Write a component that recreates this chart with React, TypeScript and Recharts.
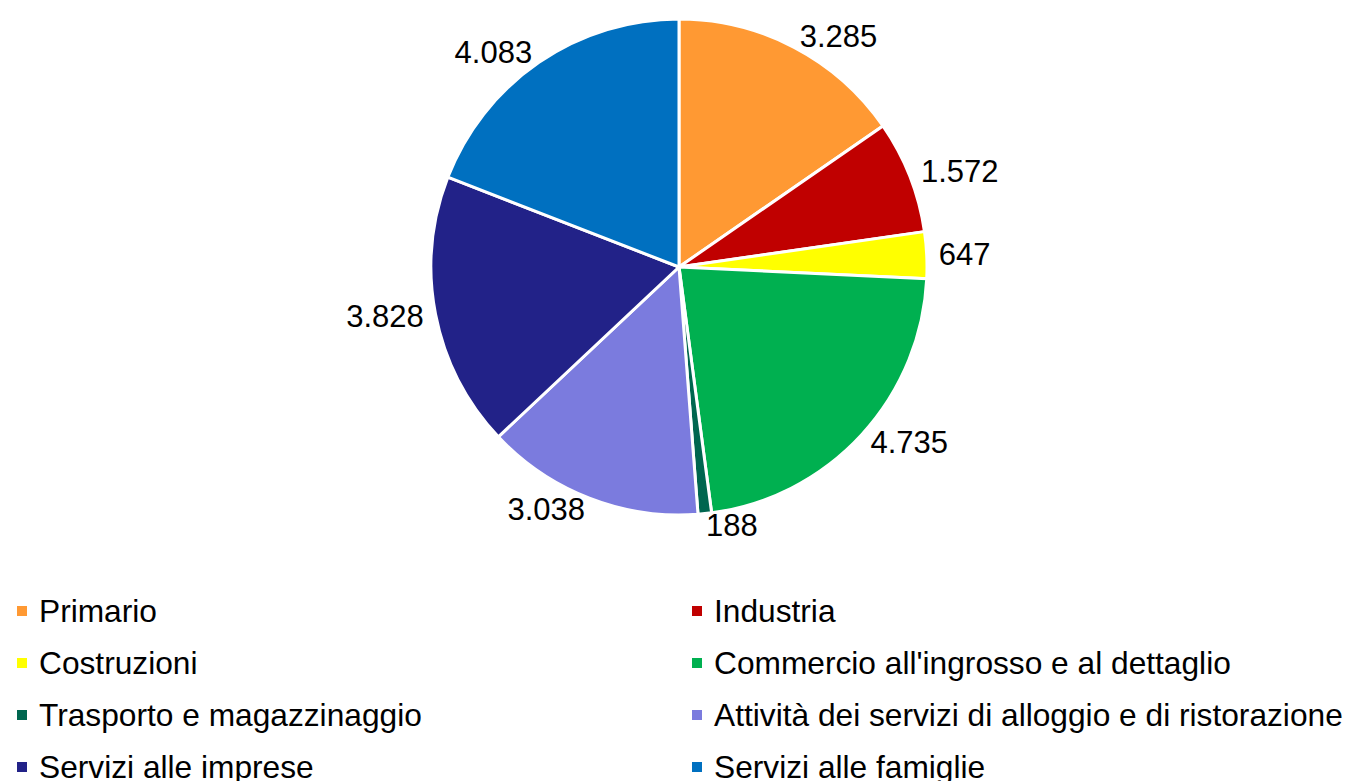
import { PieChart, Pie, Cell, Legend } from 'recharts';

const SECTORS = [
  'Primario',
  'Industria',
  'Costruzioni',
  "Commercio all'ingrosso e al dettaglio",
  'Trasporto e magazzinaggio',
  'Attività dei servizi di alloggio e di ristorazione',
  'Servizi alle imprese',
  'Servizi alle famiglie',
];
const VALUES = [3285, 1572, 647, 4735, 188, 3038, 3828, 4083];
const COLORS = ['#FF9933', '#C00000', '#FFFF00', '#00B050', '#00664F', '#7B7BDE', '#222288', '#0070C0'];

const FONT = '"Liberation Sans", Arial, sans-serif';
const RAD = Math.PI / 180;

const data = SECTORS.map((name, i) => ({ name, value: VALUES[i] }));

const fmt = (v: number) => v.toLocaleString('de-DE');

function renderLabel(props: any) {
  const { cx, cy, midAngle, outerRadius, value } = props;
  const r = outerRadius + 12;
  const x = cx + r * Math.cos(-midAngle * RAD);
  const y = cy + r * Math.sin(-midAngle * RAD);
  const anchor = Math.cos(-midAngle * RAD) >= 0 ? 'start' : 'end';
  return (
    <text x={x} y={y} textAnchor={anchor} dominantBaseline="central" fill="#000" fontSize={31} fontFamily={FONT}>
      {fmt(value)}
    </text>
  );
}

function LegendGrid() {
  return (
    <div style={{ display: 'grid', gridTemplateColumns: '675px 676px', fontFamily: FONT, fontSize: 31.7, color: '#000' }}>
      {SECTORS.map((name, i) => (
        <div key={name} style={{ height: 52, display: 'flex', alignItems: 'center', paddingLeft: 17 }}>
          <span style={{ width: 10, height: 10, background: COLORS[i], marginRight: 12, flexShrink: 0 }} />
          <span style={{ whiteSpace: 'nowrap' }}>{name}</span>
        </div>
      ))}
    </div>
  );
}

export default function App() {
  return (
    <div style={{ position: 'absolute', left: 0, top: 0, background: '#fff' }}>
      <PieChart width={1351} height={781} margin={{ top: 0, right: 0, bottom: 0, left: 0 }}>
        <Pie
          data={data}
          dataKey="value"
          nameKey="name"
          cx={679}
          cy={267}
          outerRadius={248}
          startAngle={90}
          endAngle={-270}
          stroke="#fff"
          strokeWidth={3}
          label={renderLabel}
          labelLine={false}
          isAnimationActive={false}
        >
          {data.map((d, i) => (
            <Cell key={d.name} fill={COLORS[i]} />
          ))}
        </Pie>
        <Legend
          content={() => <LegendGrid />}
          wrapperStyle={{ position: 'absolute', left: 0, top: 585, width: 1351 }}
        />
      </PieChart>
    </div>
  );
}
